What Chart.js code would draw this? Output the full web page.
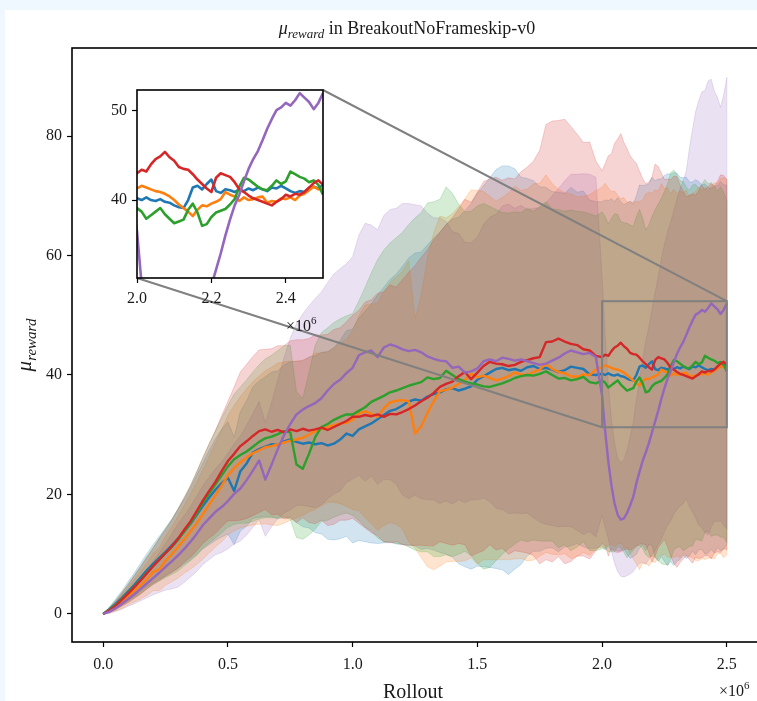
<!DOCTYPE html>
<html lang="en">
<head>
<meta charset="UTF-8">
<title>mu_reward in BreakoutNoFrameskip-v0</title>
<script src="https://cdn.jsdelivr.net/npm/chart.js"></script>
<style>
    body { margin: 0; background: #f0f8ff; overflow: hidden; }
    #figure { position: absolute; left: 5px; top: 10px; width: 800px; height: 700px; background: #fff; }
    canvas { position: absolute; left: 0; top: 0; }
</style>
</head>
<body>
<div id="figure"></div>
<canvas id="main" width="780" height="701"></canvas>
<canvas id="inset" width="780" height="701"></canvas>
<script>
// rollouts in units of 1e6 (finer steps in the zoomed part)
const rollout = [
    0,0.025,0.05,0.075,0.1,0.125,0.15,0.175,0.2,0.225,0.25,0.275,0.3,0.325,0.35,0.375,0.4,0.425,0.45,0.475,
    0.5,0.525,0.55,0.575,0.6,0.625,0.65,0.675,0.7,0.725,0.75,0.775,0.8,0.825,0.85,0.875,0.9,0.925,0.95,0.975,
    1,1.025,1.05,1.075,1.1,1.125,1.15,1.175,1.2,1.225,1.25,1.275,1.3,1.325,1.35,1.375,1.4,1.425,1.45,1.475,
    1.5,1.525,1.55,1.575,1.6,1.625,1.65,1.675,1.7,1.725,1.75,1.775,1.8,1.825,1.85,1.875,1.9,1.925,1.95,1.975,
    2,2.0125,2.025,2.0375,2.05,2.0625,2.075,2.0875,2.1,2.1125,2.125,2.1375,2.15,2.1625,2.175,2.1875,2.2,2.2125,2.225,2.2375,
    2.25,2.2625,2.275,2.2875,2.3,2.3125,2.325,2.3375,2.35,2.3625,2.375,2.3875,2.4,2.4125,2.425,2.4375,2.45,2.4625,2.475,2.4875,
    2.5
];

const meanBlue = [
    0,0.8,1.7,2.7,3.8,4.9,6.1,7.3,8.4,9.4,10.4,11.5,12.6,13.8,15.1,16.6,18.1,19.5,20.8,21.9,
    22.8,20.6,23.9,25.2,27.0,27.6,28.0,28.4,28.3,28.9,29.2,28.8,28.5,28.7,28.4,28.6,28.2,28.5,29.2,30.2,
    29.8,30.9,31.4,31.9,32.6,33.3,34.0,34.3,34.9,35.6,35.9,35.7,36.4,36.8,37.1,37.6,37.8,37.4,37.7,38.1,
    39.2,39.8,40.4,41.0,41.2,40.8,41.0,40.7,41.3,41.5,41.0,41.2,40.9,40.5,40.8,41.4,41.2,41.0,40.1,40.0,
    40.2,40.0,40.3,40.0,39.9,40.1,39.8,39.7,39.4,39.2,39.1,40.0,41.4,41.6,41.2,41.8,42.3,41.0,40.8,41.2,
    41.1,40.9,41.2,41.0,41.3,41.1,41.4,41.2,41.0,41.4,41.3,41.6,41.3,41.0,40.8,41.0,40.9,41.4,41.5,41.3,
    41.7
];
const stdBlue = [
    0,0.4,0.8,1.2,1.6,2.0,2.4,2.8,3.2,3.6,4.0,4.4,4.9,5.4,6.0,6.6,7.2,7.9,8.5,9.0,
    9.4,9.0,10.0,10.5,11.0,11.4,11.7,12.1,12.4,12.8,13.0,13.5,13.9,14.3,14.8,15.2,15.7,16.1,16.6,17.2,
    17.9,18.6,19.3,20.0,20.8,21.4,22.0,22.6,23.3,24.0,24.5,24.9,25.4,26.1,26.8,27.6,28.3,29.0,29.8,30.6,
    31.2,31.9,32.6,33.4,33.8,34.2,33.5,32.4,31.6,31.0,30.5,30.2,29.8,30.1,29.6,30.0,29.4,29.8,29.2,29.0,
    28.8,29.3,28.9,29.5,29.1,29.6,29.2,28.8,29.4,29.9,29.5,30.0,30.4,30.1,30.6,30.2,30.8,31.5,32.0,31.6,
    32.3,32.8,32.4,32.9,32.5,32.0,31.6,31.9,31.3,30.9,31.4,30.8,30.5,31.0,30.6,30.2,30.7,30.3,30.9,30.5,
    30.1
];

const meanOrange = [
    0,0.6,1.3,2.1,3.0,3.9,4.8,5.8,7.0,7.5,8.9,10.0,11.2,12.5,13.8,15.2,16.7,18.3,19.9,21.5,
    23.2,24.4,25.4,26.2,26.9,27.4,27.9,28.1,28.4,28.7,29.0,29.2,29.5,30.0,30.6,30.9,31.3,31.6,31.9,32.0,
    32.5,33.6,33.9,33.5,33.0,34.4,35.4,35.7,35.8,35.6,30.2,31.4,33.7,35.6,37.3,37.5,37.9,38.5,39.2,40.2,
    39.6,39.9,39.5,39.1,39.4,39.8,40.4,40.1,40.0,40.5,40.9,41.9,41.0,40.5,40.3,39.8,39.7,40.1,40.0,40.9,
    41.3,41.6,41.4,41.2,41.0,40.9,40.7,40.4,40.0,39.5,39.1,38.7,38.2,38.9,39.4,39.3,39.6,39.8,40.1,40.9,
    40.6,40.4,39.9,40.3,40.0,40.1,40.3,40.4,39.7,39.9,39.8,40.2,40.1,40.3,40.0,40.5,40.7,41.1,41.5,41.2,
    41.3
];
const stdOrange = [
    0,0.4,0.8,1.2,1.5,1.9,2.3,2.7,3.1,3.6,4.1,4.6,5.2,5.7,6.3,6.9,7.5,8.1,8.7,9.4,
    10.0,10.5,11.0,11.5,12.0,12.4,12.8,13.2,13.6,13.5,13.3,13.1,13.0,12.9,13.1,12.8,12.6,12.9,13.4,14.0,
    15.0,16.3,17.8,18.4,19.0,19.6,20.1,20.7,21.6,23.5,19.2,22.0,25.8,28.2,29.3,28.8,29.1,29.7,30.3,30.8,
    31.3,30.8,30.4,30.0,30.3,30.7,31.2,30.8,31.1,31.5,31.2,31.6,31.0,30.6,30.2,30.5,30.1,29.8,30.2,30.0,
    30.1,30.5,29.9,29.5,29.8,29.2,28.8,29.3,28.9,29.4,29.9,30.3,30.8,30.4,30.9,31.3,30.8,31.2,30.7,31.1,
    30.6,30.9,30.4,30.8,30.3,30.7,30.2,30.6,30.1,30.5,30.9,31.3,30.8,31.2,30.7,31.1,31.5,31.0,31.4,31.8,
    31.4
];

const meanGreen = [
    0,0.7,1.5,2.5,3.5,4.6,5.7,6.9,8.0,9.1,10.2,11.2,12.4,13.8,15.2,16.8,18.6,20.2,21.7,23.2,
    24.7,25.9,26.6,27.2,28.0,28.8,29.4,29.7,30.1,30.6,30.4,25.0,24.3,26.8,29.6,31.3,31.8,32.5,33.0,33.4,
    33.4,34.0,34.6,35.5,36.0,36.5,37.1,37.4,37.8,38.2,38.5,38.8,39.6,39.3,39.5,40.7,40.0,39.3,38.9,38.6,
    38.4,38.1,38.0,38.3,38.6,39.0,39.5,39.8,40.0,39.9,40.2,40.6,40.0,39.4,39.5,39.1,39.3,39.7,38.8,38.6,
    39.1,38.7,37.9,38.3,38.7,39.1,38.4,37.9,37.4,37.6,37.8,38.9,39.6,38.6,37.1,37.3,38.1,38.6,38.8,39.0,
    39.5,40.1,41.5,42.5,42.3,41.9,41.5,41.2,41.1,41.6,42.2,41.8,42.1,43.2,42.9,42.6,42.4,42.0,42.2,41.7,
    40.6
];
const stdGreen = [
    0,0.4,0.8,1.1,1.5,1.9,2.3,2.7,3.1,3.6,4.1,4.6,5.2,5.7,6.3,7.0,7.6,8.3,9.0,9.6,
    10.2,10.9,11.4,12.0,12.5,12.9,13.3,13.6,14.0,14.3,14.6,12.2,11.8,13.6,15.4,15.8,16.1,16.3,16.4,16.5,
    16.9,18.4,20.1,21.6,23.3,24.4,25.0,25.6,26.1,27.0,27.8,28.4,29.2,29.7,29.9,30.8,30.4,29.3,28.4,28.8,
    29.9,30.6,30.2,29.4,28.6,28.1,27.8,27.4,27.9,27.5,28.0,28.4,27.8,28.3,27.9,28.5,28.1,27.6,28.2,28.0,
    28.2,27.8,27.4,27.9,28.3,27.8,27.3,27.6,28.0,27.5,27.1,27.6,28.1,27.7,27.2,27.8,28.4,29.1,29.8,30.6,
    31.2,31.9,32.4,31.8,31.2,30.6,30.9,30.3,29.8,30.2,29.7,29.4,29.9,29.5,29.1,29.6,29.2,28.8,29.3,28.9,
    28.6
];

const meanRed = [
    0,0.6,1.4,2.4,3.4,4.5,5.6,6.8,8.0,9.1,10.2,11.3,12.6,14.1,15.5,17.2,19.0,20.6,22.1,23.9,
    25.6,26.8,28.1,28.9,29.8,30.6,30.9,30.5,30.8,30.4,30.9,30.6,31.0,30.7,30.9,31.2,30.8,31.3,31.8,32.3,
    33.0,33.0,33.3,33.1,33.4,33.0,33.5,33.4,33.8,34.3,34.9,35.6,36.2,37.0,38.0,38.5,38.9,39.8,40.5,39.3,
    40.4,41.5,42.2,41.9,41.8,41.5,41.7,42.2,42.5,42.8,43.0,45.5,45.6,46.1,45.6,45.2,45.0,44.3,44.1,43.2,
    43.0,43.4,43.2,44.0,44.6,44.9,45.4,44.8,44.4,43.7,43.5,43.4,42.9,42.3,41.8,41.3,40.9,42.5,43.0,42.8,
    42.6,42.0,41.2,40.9,40.5,40.2,40.0,39.8,39.6,39.4,39.8,40.1,40.6,40.4,40.7,40.6,40.9,41.4,41.9,42.2,
    41.7
];
const stdRed = [
    0,0.4,0.7,1.1,1.5,1.9,2.3,2.6,3.0,3.5,3.9,4.4,5.0,5.4,6.0,6.6,7.2,7.9,8.6,9.3,
    10.0,11.2,12.4,12.9,13.3,13.6,13.4,13.9,14.1,14.5,14.8,15.3,14.9,15.4,15.8,15.5,16.0,16.3,16.1,16.6,
    17.0,17.8,18.9,19.5,20.3,20.9,21.6,21.3,22.2,22.9,23.4,24.1,24.8,25.6,25.9,26.7,27.4,28.0,28.9,29.6,
    30.2,30.9,30.6,31.2,30.8,31.5,31.1,31.8,32.3,33.0,34.6,36.4,36.9,36.5,37.2,36.4,35.3,34.6,34.9,32.6,
    31.2,32.0,33.5,33.0,34.2,34.6,35.0,34.1,33.5,33.0,32.5,32.0,31.2,30.6,30.2,31.0,32.2,32.8,31.9,31.0,
    30.1,30.8,31.5,32.4,32.7,31.6,30.8,30.0,30.5,30.9,30.3,30.8,31.2,30.6,30.9,31.4,30.7,31.0,31.6,31.2,
    31.0
];

const meanPurple = [
    0,0.4,1.0,1.7,2.5,3.3,4.2,5.1,6.0,6.9,7.9,8.8,9.8,10.9,12.1,13.4,14.9,16.0,17.1,17.9,
    18.9,20.1,21.0,22.4,24.0,25.7,22.5,25.0,27.6,29.9,31.8,33.4,34.2,34.8,35.3,36.1,37.4,38.5,39.2,40.3,
    41.2,43.3,43.8,44.1,43.0,44.6,45.1,44.8,44.3,44.0,44.2,43.8,43.1,42.7,42.4,42.3,41.2,41.4,40.4,40.6,
    41.1,42.3,42.6,42.3,42.9,42.7,42.4,42.6,42.3,42.0,41.7,41.9,42.4,42.9,43.6,44.1,43.8,43.5,43.7,43.0,
    36.5,30.5,25.5,21.5,18.5,16.6,15.8,16.0,16.9,18.2,19.6,21.9,23.8,25.6,27.0,28.6,30.4,32.2,34.0,36.0,
    37.8,39.4,40.6,42.1,43.5,44.6,45.5,46.7,48.0,49.1,50.1,50.4,50.9,50.6,51.2,52.0,51.5,51.0,50.2,50.9,
    52.0
];
const stdPurple = [
    0,0.3,0.6,0.9,1.2,1.6,2.0,2.4,2.8,3.3,3.9,4.6,5.3,5.6,5.9,6.3,6.6,6.9,7.2,7.6,
    8.0,8.4,8.8,9.2,9.5,9.9,9.5,10.4,11.6,13.0,14.4,15.2,16.0,16.8,17.5,17.8,18.1,18.4,18.6,18.3,
    18.6,20.1,21.6,21.0,21.3,22.1,22.6,23.1,24.4,24.7,24.3,24.5,24.0,23.6,23.9,23.4,22.8,22.3,21.8,21.5,
    22.0,22.9,23.8,24.6,25.4,25.9,25.5,25.8,25.4,25.9,26.3,26.9,27.6,28.3,28.9,29.5,29.8,30.2,29.9,30.1,
    20.0,16.0,13.0,11.0,10.0,9.5,9.5,9.8,10.5,11.5,12.5,14.0,15.3,17.0,18.7,19.5,20.5,21.6,22.4,23.5,
    24.0,24.6,25.0,25.4,26.0,26.6,27.0,27.4,30.0,32.0,34.0,35.5,36.5,37.0,38.0,37.5,36.0,35.5,34.6,36.0,
    37.8
];

const xTicks = [0, 0.5, 1.0, 1.5, 2.0, 2.5];
const yTicks = [0, 20, 40, 60, 80];
const insetXTicks = [2.0, 2.2, 2.4];
const insetYTicks = [40, 50];
const zoomRollout = [2.0, 2.5];
const zoomReward = [31.25, 52.35];

const SERIF = "'Liberation Serif', 'DejaVu Serif', serif";
Chart.defaults.font.family = SERIF;
Chart.defaults.color = '#1a1a1a';

// tab10 colours; bands stacked purple first, lines with purple on top
const runs = [
    { mean: meanBlue,   std: stdBlue,   color: [31, 119, 180],  bandOrder: 19, lineOrder: 5 },
    { mean: meanOrange, std: stdOrange, color: [255, 127, 14],  bandOrder: 18, lineOrder: 4 },
    { mean: meanGreen,  std: stdGreen,  color: [44, 160, 44],   bandOrder: 17, lineOrder: 3 },
    { mean: meanRed,    std: stdRed,    color: [214, 39, 40],   bandOrder: 16, lineOrder: 2 },
    { mean: meanPurple, std: stdPurple, color: [148, 103, 189], bandOrder: 20, lineOrder: 1 }
];

const insetBox = { left: 137, top: 90, right: 323, bottom: 278 };

const rgba = (c, a) => `rgba(${c[0]},${c[1]},${c[2]},${a})`;
const pts = arr => arr.map((v, i) => ({ x: rollout[i], y: v }));

function drawRich(ctx, parts, x, y, align) {
    let w = 0;
    parts.forEach(p => { ctx.font = p[1]; w += ctx.measureText(p[0]).width; });
    let cx = align === 'center' ? x - w / 2 : x;
    ctx.textAlign = 'left';
    ctx.textBaseline = 'alphabetic';
    parts.forEach(p => {
        ctx.font = p[1];
        ctx.fillText(p[0], cx, y + p[2]);
        cx += ctx.measureText(p[0]).width;
    });
}

function lineSet(r, width) {
    return {
        data: pts(r.mean), borderColor: rgba(r.color, 1), borderWidth: width,
        borderJoinStyle: 'round', fill: false, pointRadius: 0, order: r.lineOrder
    };
}

const mainSets = [];
runs.forEach(r => {
    const upper = r.mean.map((m, i) => m + r.std[i]);
    const lower = r.mean.map((m, i) => m - r.std[i]);
    const tint = rgba(r.color, 0.2);
    mainSets.push({ data: pts(upper), borderColor: tint, backgroundColor: tint, borderWidth: 1,
                    fill: '+1', pointRadius: 0, order: r.bandOrder });
    mainSets.push({ data: pts(lower), borderColor: tint, borderWidth: 1,
                    fill: false, pointRadius: 0, order: r.bandOrder });
});
runs.forEach(r => mainSets.push(lineSet(r, 2.4)));

const tickGrid = { drawOnChartArea: false, tickLength: 5, tickColor: '#000', tickWidth: 1.2 };

const mainDecor = {
    id: 'mainDecor',
    afterDatasetsDraw(chart) {
        const { ctx, scales: { x, y } } = chart;
        ctx.save();
        // closing edge of each band at the last rollout
        const last = rollout.length - 1;
        const xe = x.getPixelForValue(rollout[last]);
        runs.forEach(r => {
            ctx.strokeStyle = rgba(r.color, 0.2);
            ctx.lineWidth = 1;
            ctx.beginPath();
            ctx.moveTo(xe, y.getPixelForValue(r.mean[last] + r.std[last]));
            ctx.lineTo(xe, y.getPixelForValue(r.mean[last] - r.std[last]));
            ctx.stroke();
        });
        // zoom box and connectors to the inset
        const zx0 = x.getPixelForValue(zoomRollout[0]), zx1 = x.getPixelForValue(zoomRollout[1]);
        const zyTop = y.getPixelForValue(zoomReward[1]), zyBot = y.getPixelForValue(zoomReward[0]);
        ctx.strokeStyle = '#808080';
        ctx.lineWidth = 2;
        ctx.strokeRect(zx0, zyTop, zx1 - zx0, zyBot - zyTop);
        ctx.beginPath();
        ctx.moveTo(insetBox.right, insetBox.top); ctx.lineTo(zx1, zyTop);
        ctx.moveTo(insetBox.left, insetBox.bottom); ctx.lineTo(zx0, zyBot);
        ctx.stroke();
        ctx.restore();
    },
    afterDraw(chart) {
        const { ctx, chartArea: a } = chart;
        ctx.save();
        ctx.strokeStyle = '#000';
        ctx.lineWidth = 1.6;
        ctx.strokeRect(a.left, a.top, a.right - a.left, a.bottom - a.top);
        ctx.fillStyle = '#1a1a1a';
        drawRich(ctx, [['μ', 'italic 18px ' + SERIF, 0], ['reward', 'italic 13px ' + SERIF, 4],
                       [' in BreakoutNoFrameskip-v0', '18px ' + SERIF, 0]], 407, 34, 'center');
        ctx.font = '20px ' + SERIF;
        ctx.textAlign = 'center';
        ctx.fillText('Rollout', 413, 698);
        drawRich(ctx, [['×10', '16px ' + SERIF, 0], ['6', '11px ' + SERIF, -7]], 719, 696, 'left');
        ctx.translate(31, 345);
        ctx.rotate(-Math.PI / 2);
        drawRich(ctx, [['μ', 'italic 21px ' + SERIF, 0], ['reward', 'italic 15px ' + SERIF, 5]], 0, 0, 'center');
        ctx.restore();
    }
};

new Chart(document.getElementById('main'), {
    type: 'line',
    data: { datasets: mainSets },
    options: {
        responsive: false,
        animation: false,
        devicePixelRatio: 1,
        events: [],
        layout: { padding: { left: 0, top: 48, right: 22, bottom: 0 } },
        plugins: { legend: { display: false }, tooltip: { enabled: false } },
        scales: {
            x: {
                type: 'linear', min: -0.125, max: 2.625,
                afterBuildTicks: s => { s.ticks = xTicks.map(v => ({ value: v })); },
                afterFit: s => { s.height = 59; },
                grid: tickGrid,
                border: { display: false },
                ticks: { callback: v => v.toFixed(1), font: { size: 16 }, padding: 8, maxRotation: 0, autoSkip: false }
            },
            y: {
                type: 'linear', min: -4.69, max: 94.73,
                afterBuildTicks: s => { s.ticks = yTicks.map(v => ({ value: v })); },
                afterFit: s => { s.width = 72; },
                grid: tickGrid,
                border: { display: false },
                ticks: { callback: v => String(v), font: { size: 16 }, padding: 5 }
            }
        }
    },
    plugins: [mainDecor]
});

const insetDecor = {
    id: 'insetDecor',
    beforeDraw(chart) {
        const { ctx, chartArea: a } = chart;
        ctx.save();
        ctx.fillStyle = '#fff';
        ctx.fillRect(a.left, a.top, a.right - a.left, a.bottom - a.top);
        ctx.restore();
    },
    afterDraw(chart) {
        const { ctx, chartArea: a } = chart;
        ctx.save();
        ctx.strokeStyle = '#000';
        ctx.lineWidth = 1.6;
        ctx.strokeRect(a.left, a.top, a.right - a.left, a.bottom - a.top);
        ctx.fillStyle = '#1a1a1a';
        drawRich(ctx, [['×10', '16px ' + SERIF, 0], ['6', '11px ' + SERIF, -7]], 286, 331, 'left');
        ctx.restore();
    }
};

new Chart(document.getElementById('inset'), {
    type: 'line',
    data: { datasets: runs.map(r => lineSet(r, 2.6)) },
    options: {
        responsive: false,
        animation: false,
        devicePixelRatio: 1,
        events: [],
        layout: { padding: { left: 107, top: 90, right: 457, bottom: 393 } },
        plugins: { legend: { display: false }, tooltip: { enabled: false } },
        scales: {
            x: {
                type: 'linear', min: zoomRollout[0], max: zoomRollout[1],
                afterBuildTicks: s => { s.ticks = insetXTicks.map(v => ({ value: v })); },
                afterFit: s => { s.height = 30; },
                grid: tickGrid,
                border: { display: false },
                ticks: { callback: v => v.toFixed(1), font: { size: 16 }, padding: 6, maxRotation: 0, autoSkip: false }
            },
            y: {
                type: 'linear', min: zoomReward[0], max: zoomReward[1],
                afterBuildTicks: s => { s.ticks = insetYTicks.map(v => ({ value: v })); },
                afterFit: s => { s.width = 30; },
                grid: tickGrid,
                border: { display: false },
                ticks: { callback: v => String(v), font: { size: 16 }, padding: 5 }
            }
        }
    },
    plugins: [insetDecor]
});
</script>
</body>
</html>
